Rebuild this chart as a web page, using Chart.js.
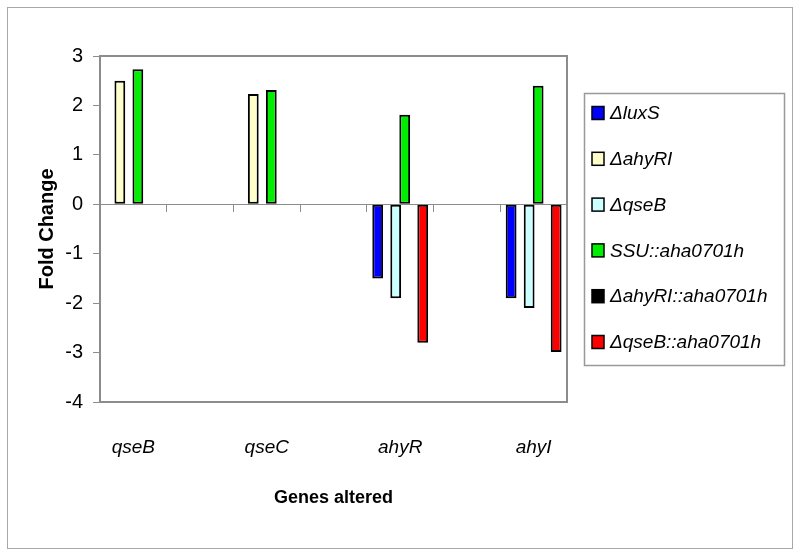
<!DOCTYPE html>
<html>
<head>
<meta charset="utf-8">
<script src="https://cdn.jsdelivr.net/npm/chart.js@4/dist/chart.umd.min.js"></script>
<style>
  html, body { margin: 0; padding: 0; background: #fff; }
  #wrap { width: 800px; height: 556px; }
</style>
</head>
<body>
<div id="wrap"><canvas id="foldChart" width="800" height="556"></canvas></div>
<script>
// genes on the x axis (blank slots keep the Excel spacing)
const genes = ["qseB", "", "qseC", "", "ahyR", "", "ahyI"];

const strains = ["\u0394luxS", "\u0394ahyRI", "\u0394qseB", "SSU::aha0701h", "\u0394ahyRI::aha0701h", "\u0394qseB::aha0701h"];
const strainColors = ["#0000ff", "#ffffcc", "#ccffff", "#00ee00", "#000000", "#ff0000"];

// fold change values, one array per strain
const luxS      = [null, null, null, null, -1.5, null, -1.9];
const ahyRI     = [2.5, null, 2.23, null, null, null, null];
const qseB      = [null, null, null, null, -1.9, null, -2.1];
const ssuAha    = [2.73, null, 2.31, null, 1.81, null, 2.4];
const ahyRIAha  = [null, null, null, null, null, null, null];
const qseBAha   = [null, null, null, null, -2.8, null, -2.99];

const yTicks = [-4, -3, -2, -1, 0, 1, 2, 3];

const seriesValues = [luxS, ahyRI, qseB, ssuAha, ahyRIAha, qseBAha];

const frameColor = "#8c8c8c";

// plot frame, outer border and the boxed legend on the right
const framePlugin = {
    id: "frame",
    beforeDraw(chart) {
        const ctx = chart.ctx;
        ctx.save();
        ctx.fillStyle = "#fff";
        ctx.fillRect(0, 0, chart.width, chart.height);
        ctx.strokeStyle = "#a8a8a8";
        ctx.lineWidth = 1;
        ctx.strokeRect(7.5, 7.5, 785, 541);
        ctx.restore();
    },
    afterDraw(chart) {
        const ctx = chart.ctx;
        const a = chart.chartArea;
        ctx.save();
        ctx.strokeStyle = frameColor;
        ctx.lineWidth = 2;
        ctx.strokeRect(a.left, a.top, a.right - a.left, a.bottom - a.top);

        // legend
        ctx.strokeStyle = "#999";
        ctx.lineWidth = 1.5;
        ctx.strokeRect(584.5, 93.5, 200, 272);
        ctx.font = "italic 19px 'Liberation Sans', Arial, sans-serif";
        ctx.textBaseline = "middle";
        ctx.textAlign = "left";
        chart.data.datasets.forEach((ds, i) => {
            const y = 113 + i * 45.8;
            ctx.fillStyle = ds.backgroundColor;
            ctx.fillRect(592, y - 6.5, 12, 13);
            ctx.strokeStyle = "#000";
            ctx.lineWidth = 1.5;
            ctx.strokeRect(592, y - 6.5, 12, 13);
            ctx.fillStyle = "#000";
            ctx.fillText(ds.label, 610, y + 1);
        });
        ctx.restore();
    }
};

new Chart(document.getElementById("foldChart"), {
    type: "bar",
    data: {
        labels: genes,
        datasets: strains.map((name, i) => ({
            label: name,
            data: seriesValues[i],
            backgroundColor: strainColors[i],
            borderColor: "#000",
            borderWidth: 2,
            borderSkipped: false,
            categoryPercentage: 0.81,
            barPercentage: 1.2
        }))
    },
    options: {
        responsive: false,
        animation: false,
        devicePixelRatio: 1,
        layout: { padding: { top: 56, right: 233, bottom: 0, left: 0 } },
        plugins: {
            legend: { display: false },
            tooltip: { enabled: false }
        },
        scales: {
            x: {
                position: "bottom",
                grid: { display: false, drawTicks: false },
                border: { display: false },
                ticks: {
                    color: "#000",
                    padding: 34,
                    maxRotation: 0,
                    autoSkip: false,
                    font: { family: "'Liberation Sans', Arial, sans-serif", size: 19, style: "italic" }
                },
                title: {
                    display: true,
                    text: "Genes altered",
                    color: "#000",
                    padding: { top: 0, bottom: 47 },
                    font: { family: "'Liberation Sans Narrow', 'Arial Narrow', 'Liberation Sans', sans-serif", size: 18, weight: "bold" }
                },
                afterFit(scale) { scale.height = 154; }
            },
            xZero: {
                type: "category",
                labels: genes,
                position: { y: 0 },
                offset: true,
                grid: {
                    offset: true,
                    drawOnChartArea: false,
                    drawTicks: true,
                    tickLength: 7,
                    color: frameColor,
                    lineWidth: 1
                },
                border: { display: true, color: frameColor, width: 1 },
                ticks: { display: false }
            },
            y: {
                min: -4,
                max: 3,
                afterBuildTicks(scale) { scale.ticks = yTicks.map(v => ({ value: v })); },
                grid: {
                    drawOnChartArea: false,
                    drawTicks: true,
                    tickLength: 7,
                    color: frameColor,
                    lineWidth: 1
                },
                border: { display: true, color: frameColor, width: 2 },
                ticks: {
                    color: "#000",
                    padding: 10,
                    font: { family: "'Liberation Sans', Arial, sans-serif", size: 20 }
                },
                title: {
                    display: true,
                    text: "Fold Change",
                    color: "#000",
                    padding: { top: 35, bottom: 0 },
                    font: { family: "'Liberation Sans', Arial, sans-serif", size: 20, weight: "bold" }
                },
                afterFit(scale) { scale.width = 100; }
            }
        }
    },
    plugins: [framePlugin]
});
</script>
</body>
</html>
